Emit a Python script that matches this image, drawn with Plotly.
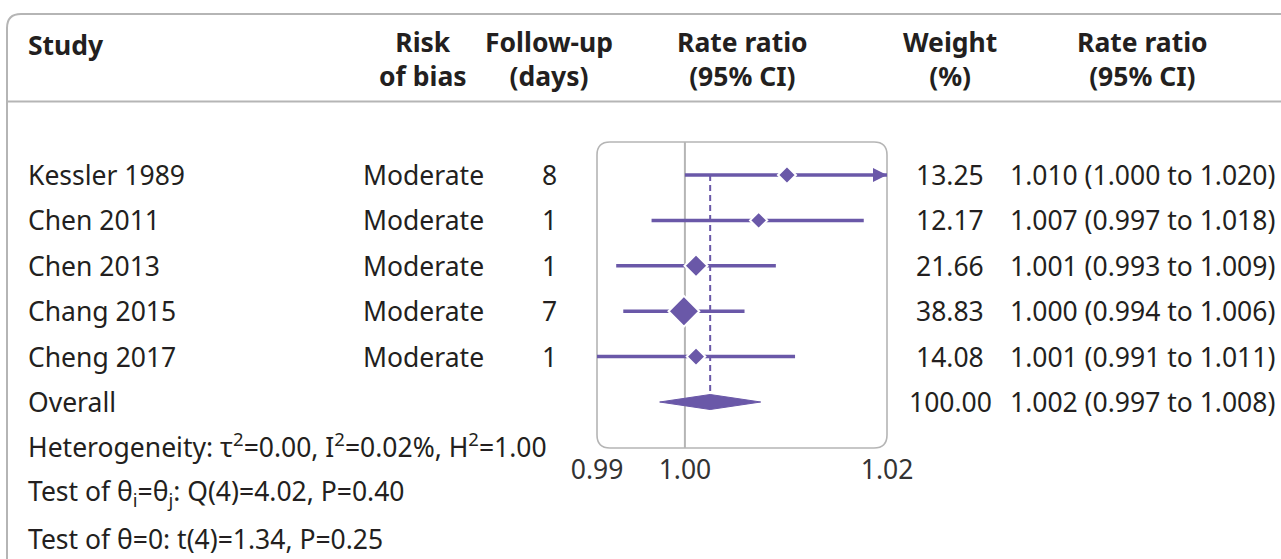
import plotly.graph_objects as go
import math

# ---------------- data ----------------
STUDIES = ["Kessler 1989", "Chen 2011", "Chen 2013", "Chang 2015", "Cheng 2017"]
RISK_OF_BIAS = ["Moderate", "Moderate", "Moderate", "Moderate", "Moderate"]
FOLLOW_UP = [8, 1, 1, 7, 1]
WEIGHT = [13.25, 12.17, 21.66, 38.83, 14.08]
RR_EST = [1.0101, 1.0073, 1.0011, 0.9999, 1.0011]
RR_LO = [1.0000, 0.9967, 0.9932, 0.9939, 0.9910]
RR_HI = [1.0200, 1.0177, 1.0090, 1.0059, 1.0109]
CI_TEXT = ["1.010 (1.000 to 1.020)", "1.007 (0.997 to 1.018)", "1.001 (0.993 to 1.009)",
           "1.000 (0.994 to 1.006)", "1.001 (0.991 to 1.011)"]

OVERALL_LABEL = "Overall"
OVERALL_WEIGHT = 100.00
OVERALL_EST = 1.0025
OVERALL_LO = 0.9975
OVERALL_HI = 1.0075
OVERALL_CI_TEXT = "1.002 (0.997 to 1.008)"

HEADERS = ["Study", "Risk<br>of bias", "Follow-up<br>(days)",
           "Rate ratio<br>(95% CI)", "Weight<br>(%)", "Rate ratio<br>(95% CI)"]

FOOTER = ["Heterogeneity: τ<sup>2</sup>=0.00, I<sup>2</sup>=0.02%, H<sup>2</sup>=1.00",
          "Test of θ<sub>i</sub>=θ<sub>j</sub>: Q(4)=4.02, P=0.40",
          "Test of θ=0: t(4)=1.34, P=0.25"]

X_MIN, X_MAX = 0.9913, 1.0200
TICK_VALS = [X_MIN, 1.00, 1.02]
TICK_TEXT = ["0.99", "1.00", "1.02"]
NULL_VALUE = 1.00

# ---------------- layout constants ----------------
W, H = 1281, 559
PURPLE = "#6a58a8"
GREY = "#b5b5b5"
TXT = "#231f20"
FONT = "Noto Sans"
FS = 26.5

ROW0_PX, ROW_STEP = 175, 45.4
Y_TOP = -ROW0_PX / ROW_STEP
Y_BOT = (H - ROW0_PX) / ROW_STEP


def px(x):
    return x / W


def py(y):
    return 1 - y / H


def prow(y):
    return (y - ROW0_PX) / ROW_STEP


BOX_L, BOX_R, BOX_T, BOX_B = 597, 887, 142, 448
COL_STUDY = 26
COL_RISK = 423
COL_FU = 549
COL_RR = (BOX_L + BOX_R) / 2
COL_W = 950
COL_CI = 1142

fig = go.Figure()

n = len(STUDIES)
rows = list(range(n))

# CI lines
for i in rows:
    fig.add_trace(go.Scatter(x=[RR_LO[i], RR_HI[i]], y=[i, i], mode="lines",
                             line=dict(color=PURPLE, width=3.5), hoverinfo="skip"))

# truncated arrows
arr_x = [RR_HI[i] for i in rows if RR_HI[i] >= X_MAX]
arr_y = [i for i in rows if RR_HI[i] >= X_MAX]
fig.add_trace(go.Scatter(x=arr_x, y=arr_y, mode="markers", cliponaxis=False,
                         marker=dict(symbol="arrow-right", size=14, color=PURPLE, opacity=1,
                                     line=dict(width=0)), hoverinfo="skip"))

# point estimates
fig.add_trace(go.Scatter(x=RR_EST, y=rows, mode="markers",
                         marker=dict(symbol="diamond", color=PURPLE, opacity=1,
                                     size=[3.8 * math.sqrt(w) for w in WEIGHT],
                                     line=dict(color="white", width=2)),
                         hoverinfo="skip"))

# overall diamond
oy = n
dh = 7.5 / ROW_STEP
fig.add_trace(go.Scatter(x=[OVERALL_LO, OVERALL_EST, OVERALL_HI, OVERALL_EST, OVERALL_LO],
                         y=[oy, oy - dh, oy, oy + dh, oy], mode="lines", fill="toself",
                         fillcolor=PURPLE, line=dict(color=PURPLE, width=1), hoverinfo="skip"))

shapes = []
# plot box (rounded)
r = 13
rx, ry = r / W, r / H
L, R, T, B = px(BOX_L), px(BOX_R), py(BOX_T), py(BOX_B)
box_path = (f"M{L+rx},{T} L{R-rx},{T} Q{R},{T} {R},{T-ry} L{R},{B+ry} Q{R},{B} {R-rx},{B} "
            f"L{L+rx},{B} Q{L},{B} {L},{B+ry} L{L},{T-ry} Q{L},{T} {L+rx},{T} Z")
shapes.append(dict(type="path", path=box_path, xref="paper", yref="paper",
                   line=dict(color=GREY, width=1.6), fillcolor="rgba(0,0,0,0)", layer="below"))
# null line
shapes.append(dict(type="line", xref="x", yref="paper", x0=NULL_VALUE, x1=NULL_VALUE,
                   y0=py(BOX_B), y1=py(BOX_T), line=dict(color=GREY, width=2), layer="below"))
# overall dashed line
shapes.append(dict(type="line", xref="x", yref="y", x0=OVERALL_EST, x1=OVERALL_EST,
                   y0=0, y1=oy - dh, line=dict(color=PURPLE, width=2, dash="6px,4px"),
                   layer="below"))
# table borders
r2 = 14
tb = (f"M{px(W+5)},{py(14)} L{px(7+r2)},{py(14)} Q{px(7)},{py(14)} {px(7)},{py(14+r2)} "
      f"L{px(7)},{py(H+5)}")
shapes.append(dict(type="path", path=tb, xref="paper", yref="paper",
                   line=dict(color=GREY, width=2), fillcolor="rgba(0,0,0,0)"))
shapes.append(dict(type="line", xref="paper", yref="paper", x0=px(7), x1=px(W + 5),
                   y0=py(101.5), y1=py(101.5), line=dict(color=GREY, width=2)))

ann = []


def txt(x, y, s, anchor="center", bold=False, yref="y", yanchor="middle"):
    ann.append(dict(x=x, y=y, xref="paper", yref=yref, text=f"<b>{s}</b>" if bold else s,
                    showarrow=False, xanchor=anchor, yanchor=yanchor,
                    align=anchor if anchor != "center" else "center",
                    font=dict(family=FONT, size=FS, color=TXT)))


# headers
hcols = [(COL_STUDY, "left"), (COL_RISK, "center"), (COL_FU, "center"),
         (COL_RR, "center"), (COL_W, "center"), (COL_CI, "center")]
for h, (cx, anc) in zip(HEADERS, hcols):
    if "<br>" in h:
        txt(px(cx), py(59), h, anc, True, "paper")
    else:
        txt(px(cx), py(45), h, anc, True, "paper")

# rows
for i in rows:
    txt(px(COL_STUDY), i, STUDIES[i], "left")
    txt(px(COL_RISK), i, RISK_OF_BIAS[i])
    txt(px(COL_FU), i, str(FOLLOW_UP[i]))
    txt(px(COL_W), i, f"{WEIGHT[i]:.2f}")
    txt(px(COL_CI), i, CI_TEXT[i])
txt(px(COL_STUDY), oy, OVERALL_LABEL, "left")
txt(px(COL_W), oy, f"{OVERALL_WEIGHT:.2f}")
txt(px(COL_CI), oy, OVERALL_CI_TEXT)

# footer
for k, s in enumerate(FOOTER):
    txt(px(COL_STUDY), prow(445 + 47 * k), s, "left")

fig.update_layout(
    width=W, height=H, margin=dict(l=0, r=0, t=0, b=0, pad=0, autoexpand=False),
    paper_bgcolor="white", plot_bgcolor="rgba(0,0,0,0)", showlegend=False,
    shapes=shapes, annotations=ann,
    xaxis=dict(domain=[px(BOX_L), px(BOX_R)], range=[X_MIN, X_MAX], anchor="free",
               position=py(BOX_B), tickvals=TICK_VALS, ticktext=TICK_TEXT, automargin=False,
               showgrid=False, zeroline=False, showline=False, ticks="",
               ticklabelstandoff=3,
               tickfont=dict(family=FONT, size=FS, color="#333")),
    yaxis=dict(domain=[0, 1], range=[Y_BOT, Y_TOP], visible=False, automargin=False),
)

fig.write_html("out.html", config={"displayModeBar": False},
               post_script="document.body.style.margin='0';document.body.style.overflow='hidden';")
